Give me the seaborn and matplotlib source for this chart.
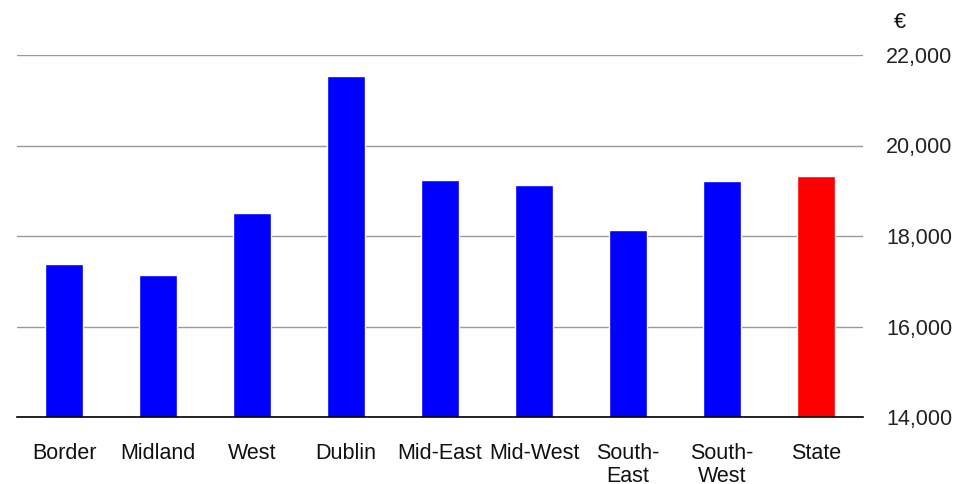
import pandas as pd
import seaborn as sns
import matplotlib.pyplot as plt
from matplotlib.ticker import FuncFormatter

# regional values (euro)
regions = ['Border', 'Midland', 'West', 'Dublin', 'Mid-East', 'Mid-West',
           'South-\nEast', 'South-\nWest', 'State']
values = [17380, 17140, 18500, 21540, 19230, 19130, 18130, 19210, 19330]
bar_colors = ['#0000ff'] * 8 + ['#ff0000']
y_ticks = [14000, 16000, 18000, 20000, 22000]

df = pd.DataFrame({'region': regions, 'value': values})

sns.set_theme(style="white")
plt.rcParams['font.family'] = ['Liberation Sans', 'DejaVu Sans']

fig = plt.figure(figsize=(9.55, 4.84), dpi=100)
ax = fig.add_axes([17 / 955, 1 - 417 / 484, 846 / 955, 362 / 484])

sns.barplot(data=df, x='region', y='value', hue='region',
            palette=dict(zip(regions, bar_colors)), width=0.4,
            saturation=1, legend=False, ax=ax)

ax.set_ylim(14000, 22000)
ax.set_yticks(y_ticks)
ax.yaxis.set_major_formatter(FuncFormatter(lambda v, p: f'{int(v):,}'))
ax.yaxis.tick_right()
ax.tick_params(axis='y', length=0, pad=16.5, labelsize=15.5, labelcolor='#222222')
ax.tick_params(axis='x', length=0, pad=19, labelsize=15.5, labelcolor='#111111')
for lab in ax.get_xticklabels():
    lab.set_linespacing(1.1)

ax.grid(axis='y', color='#999999', linewidth=1)
ax.set_axisbelow(True)
for s in ['top', 'left', 'right']:
    ax.spines[s].set_visible(False)
ax.spines['bottom'].set_color('black')
ax.spines['bottom'].set_linewidth(1.2)
ax.set_xlabel('')
ax.set_ylabel('')
ax.set_xlim(-0.5, len(regions) - 0.5)

fig.text(900 / 955, 1 - 22 / 484, '€', fontsize=15.5, ha='center', va='center',
         color='#111111')

fig.savefig('out.png', dpi=100)
